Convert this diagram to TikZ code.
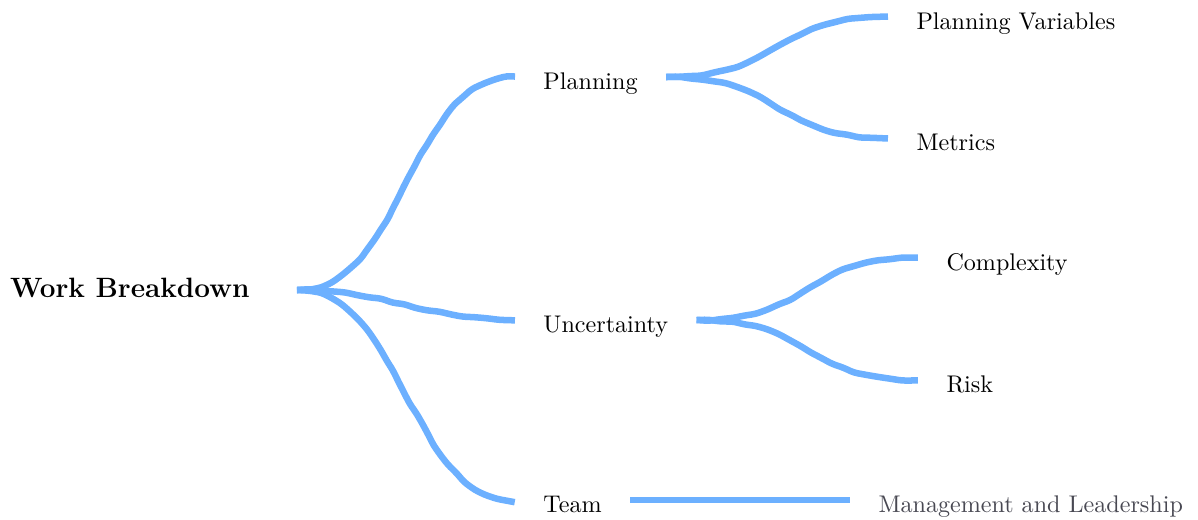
\documentclass[tikz,border=0pt]{standalone}
\usetikzlibrary{decorations.pathmorphing}
\definecolor{branch}{RGB}{108,176,255}
\definecolor{leafgray}{RGB}{72,72,82}
\begin{document}
\pgfmathsetseed{7}
\begin{tikzpicture}[x=0.415pt,y=-0.415pt,
  leaf/.style={anchor=west,inner xsep=11.62pt,inner ysep=0pt,text height=10pt,text depth=0pt,font=\fontsize{10}{12}\selectfont},
  rootnode/.style={anchor=east,inner xsep=19.5pt,inner ysep=0pt,text height=6.6pt,text depth=0pt,font=\fontsize{11.6}{13.9}\selectfont\bfseries},
  link/.style={draw=branch,line width=2.7pt,decorate,decoration={random steps,segment length=5pt,amplitude=0.35pt},rounded corners=1.5pt},
  straightlink/.style={draw=branch,line width=2.7pt}]
\useasboundingbox (0,0) rectangle (1198,519);
\node[rootnode] (root) at (297,290) {Work Breakdown};
\node[leaf] (pl) at (515,77) {Planning};
\node[leaf] (un) at (515,320) {Uncertainty};
\node[leaf] (tm) at (515,500) {Team};
\node[leaf] (pv) at (888,17) {Planning Variables};
\node[leaf] (me) at (888,138) {Metrics};
\node[leaf] (cx) at (918,258) {Complexity};
\node[leaf] (rk) at (918,380) {Risk};
\node[leaf,text=leafgray] (mg) at (850,500) {Management and Leadership};
\path[link] (root.east) to[out=0,in=180,looseness=0.9] (pl.west);
\path[link] (root.east) to[out=0,in=180] (un.west);
\path[link] (root.east) to[out=0,in=180,looseness=0.9] (tm.west);
\path[link] (pl.east) to[out=0,in=180,looseness=1.3] (pv.west);
\path[link] (pl.east) to[out=0,in=180,looseness=1.3] (me.west);
\path[link] (un.east) to[out=0,in=180,looseness=1.3] (cx.west);
\path[link] (un.east) to[out=0,in=180,looseness=1.3] (rk.west);
\path[straightlink] (tm.east) -- (mg.west);
\end{tikzpicture}
\end{document}
